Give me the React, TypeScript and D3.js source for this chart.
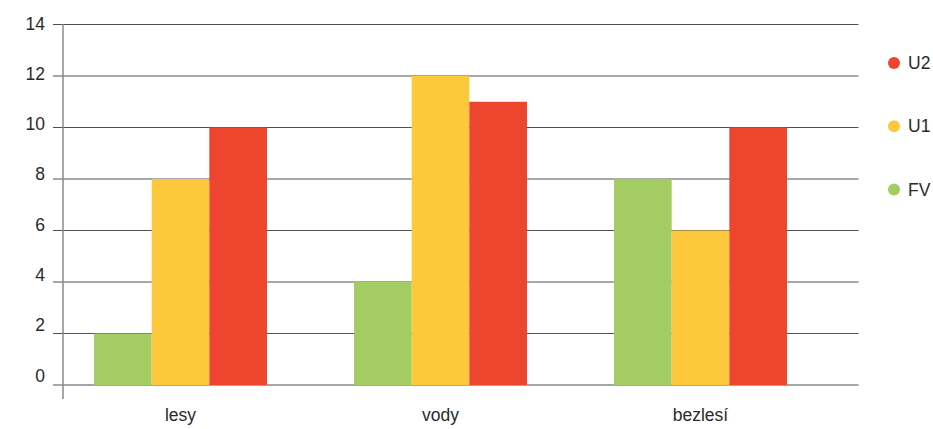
import React from "react";
import * as d3 from "d3";

const categories = ["lesy", "vody", "bezlesí"];
const seriesNames = ["FV", "U1", "U2"];
const fvValues = [2, 4, 8];
const u1Values = [8, 12, 6];
const u2Values = [10, 11, 10];
const yTicks = [0, 2, 4, 6, 8, 10, 12, 14];
const legendOrder = ["U2", "U1", "FV"];
const colors: Record<string, string> = { FV: "#a3cd62", U1: "#fdc83c", U2: "#ee452f" };

const W = 933;
const H = 429;
const FONT = "'Liberation Sans', Arial, Helvetica, sans-serif";

export default function App() {
  const values: Record<string, number[]> = { FV: fvValues, U1: u1Values, U2: u2Values };
  const y = d3.scaleLinear().domain([0, 14]).range([385, 24.5]);
  const yLabel = d3.scaleLinear().domain([0, 14]).range([375.5, 23.5]);
  const pin = 87 / 260;
  const x = d3
    .scaleBand<string>()
    .domain(categories)
    .range([50.5, 830.5])
    .paddingInner(pin)
    .paddingOuter(pin / 2);
  const xs = d3.scaleBand<string>().domain(seriesNames).range([0, x.bandwidth()]);
  const legendY = d3.scalePoint<string>().domain(legendOrder).range([63, 189.5]);

  return (
    <svg
      width={W}
      height={H}
      style={{ position: "absolute", left: 0, top: 0, background: "#fff" }}
      fontFamily={FONT}
    >
      {yTicks.map((t) => (
        <line
          key={"g" + t}
          x1={53}
          x2={858.5}
          y1={y(t)}
          y2={y(t)}
          stroke={t === 0 ? "#8a8a8a" : "#505050"}
          strokeWidth={t === 0 ? 1.5 : 1}
        />
      ))}
      {yTicks.map((t) => (
        <text
          key={"t" + t}
          x={45}
          y={yLabel(t)}
          dy="0.35em"
          textAnchor="end"
          fontSize={17.5}
          fill="#2a2a2a"
        >
          {t}
        </text>
      ))}
      {categories.map((c, i) =>
        seriesNames.map((s) => (
          <rect
            key={c + s}
            x={(x(c) as number) + (xs(s) as number)}
            y={y(values[s][i])}
            width={xs.bandwidth()}
            height={y(0) - y(values[s][i])}
            fill={colors[s]}
          />
        ))
      )}
      <line x1={63} x2={63} y1={24} y2={399} stroke="#8a8a8a" strokeWidth={1.5} />
      {categories.map((c) => (
        <text
          key={"c" + c}
          x={(x(c) as number) + x.bandwidth() / 2}
          y={421}
          textAnchor="middle"
          fontSize={17.5}
          fill="#2a2a2a"
        >
          {c}
        </text>
      ))}
      {legendOrder.map((s) => (
        <g key={"l" + s} transform={`translate(0,${legendY(s)})`}>
          <circle cx={894} cy={0} r={6} fill={colors[s]} />
          <text x={908} y={0} dy="0.35em" fontSize={17.5} fill="#2a2a2a">
            {s}
          </text>
        </g>
      ))}
    </svg>
  );
}
